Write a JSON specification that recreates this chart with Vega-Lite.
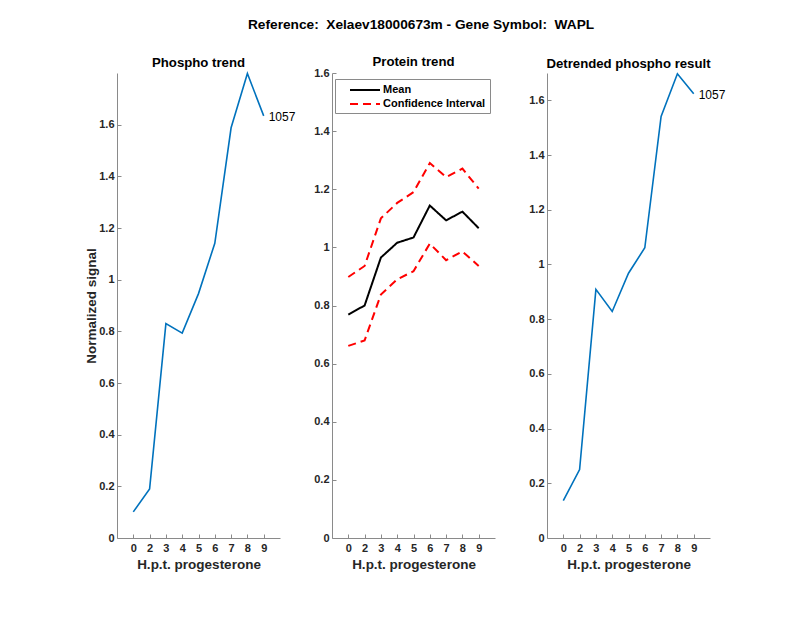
{
  "$schema": "https://vega.github.io/schema/vega-lite/v6.json",
  "padding": {"left": 84, "top": 18, "right": 10, "bottom": 10},
  "background": "white",
  "title": {
    "text": "Reference:\u00a0 Xelaev18000673m - Gene Symbol:\u00a0 WAPL",
    "fontSize": 13.7,
    "fontWeight": "bold",
    "font": "Liberation Sans",
    "color": "black",
    "anchor": "middle",
    "dx": 16,
    "offset": 23
  },
  "datasets": {
    "phospho": [
      {"t": "0", "v": 0.101, "lab": ""},
      {"t": "2", "v": 0.19, "lab": ""},
      {"t": "3", "v": 0.83, "lab": ""},
      {"t": "4", "v": 0.793, "lab": ""},
      {"t": "5", "v": 0.946, "lab": ""},
      {"t": "6", "v": 1.141, "lab": ""},
      {"t": "7", "v": 1.588, "lab": ""},
      {"t": "8", "v": 1.798, "lab": ""},
      {"t": "9", "v": 1.634, "lab": "1057"}
    ],
    "protein": [
      {"t": "0", "series": "Mean", "line": "mean", "v": 0.769},
      {"t": "2", "series": "Mean", "line": "mean", "v": 0.8},
      {"t": "3", "series": "Mean", "line": "mean", "v": 0.965},
      {"t": "4", "series": "Mean", "line": "mean", "v": 1.016},
      {"t": "5", "series": "Mean", "line": "mean", "v": 1.034},
      {"t": "6", "series": "Mean", "line": "mean", "v": 1.144},
      {"t": "7", "series": "Mean", "line": "mean", "v": 1.093},
      {"t": "8", "series": "Mean", "line": "mean", "v": 1.123},
      {"t": "9", "series": "Mean", "line": "mean", "v": 1.066},
      {"t": "0", "series": "Confidence Interval", "line": "upper", "v": 0.898},
      {"t": "2", "series": "Confidence Interval", "line": "upper", "v": 0.936},
      {"t": "3", "series": "Confidence Interval", "line": "upper", "v": 1.1},
      {"t": "4", "series": "Confidence Interval", "line": "upper", "v": 1.153},
      {"t": "5", "series": "Confidence Interval", "line": "upper", "v": 1.19},
      {"t": "6", "series": "Confidence Interval", "line": "upper", "v": 1.29},
      {"t": "7", "series": "Confidence Interval", "line": "upper", "v": 1.242},
      {"t": "8", "series": "Confidence Interval", "line": "upper", "v": 1.271},
      {"t": "9", "series": "Confidence Interval", "line": "upper", "v": 1.202},
      {"t": "0", "series": "Confidence Interval", "line": "lower", "v": 0.661},
      {"t": "2", "series": "Confidence Interval", "line": "lower", "v": 0.68},
      {"t": "3", "series": "Confidence Interval", "line": "lower", "v": 0.838},
      {"t": "4", "series": "Confidence Interval", "line": "lower", "v": 0.89},
      {"t": "5", "series": "Confidence Interval", "line": "lower", "v": 0.918},
      {"t": "6", "series": "Confidence Interval", "line": "lower", "v": 1.013},
      {"t": "7", "series": "Confidence Interval", "line": "lower", "v": 0.956},
      {"t": "8", "series": "Confidence Interval", "line": "lower", "v": 0.986},
      {"t": "9", "series": "Confidence Interval", "line": "lower", "v": 0.936}
    ],
    "detrended": [
      {"t": "0", "v": 0.137, "lab": ""},
      {"t": "2", "v": 0.25, "lab": ""},
      {"t": "3", "v": 0.909, "lab": ""},
      {"t": "4", "v": 0.828, "lab": ""},
      {"t": "5", "v": 0.968, "lab": ""},
      {"t": "6", "v": 1.061, "lab": ""},
      {"t": "7", "v": 1.541, "lab": ""},
      {"t": "8", "v": 1.697, "lab": ""},
      {"t": "9", "v": 1.624, "lab": "1057"}
    ]
  },
  "resolve": {"legend": {"color": "independent", "strokeDash": "independent"}},
  "hconcat": [
    {
      "width": 163,
      "height": 465,
      "title": {"text": "Phospho trend", "frame": "group"},
      "data": {"name": "phospho"},
      "layer": [
        {
          "mark": {"type": "line", "color": "#0072BD", "strokeWidth": 1.6},
          "encoding": {
            "x": {"field": "t", "type": "ordinal", "scale": {"type": "point", "padding": 1}, "title": "H.p.t. progesterone"},
            "y": {"field": "v", "type": "quantitative", "scale": {"domain": [0, 1.8], "nice": false}, "axis": {"values": [0, 0.2, 0.4, 0.6, 0.8, 1, 1.2, 1.4, 1.6]}, "title": "Normalized signal"}
          }
        },
        {
          "mark": {"type": "text", "align": "left", "baseline": "middle", "dx": 5, "dy": 1, "fontSize": 12, "font": "Liberation Sans", "color": "black"},
          "encoding": {
            "x": {"field": "t", "type": "ordinal"},
            "y": {"field": "v", "type": "quantitative"},
            "text": {"field": "lab"}
          }
        }
      ]
    },
    {
      "width": 163,
      "height": 465,
      "title": {"text": "Protein trend", "frame": "group"},
      "data": {"name": "protein"},
      "mark": {"type": "line", "strokeWidth": 2},
      "encoding": {
        "x": {"field": "t", "type": "ordinal", "scale": {"type": "point", "padding": 1}, "title": "H.p.t. progesterone"},
        "y": {"field": "v", "type": "quantitative", "scale": {"domain": [0, 1.6], "nice": false}, "axis": {"values": [0, 0.2, 0.4, 0.6, 0.8, 1, 1.2, 1.4, 1.6]}, "title": null},
        "detail": {"field": "line"},
        "color": {
          "field": "series", "type": "nominal",
          "scale": {"domain": ["Mean", "Confidence Interval"], "range": ["black", "#FF0000"]},
          "legend": {"title": null, "orient": "none", "legendX": 3, "legendY": 6}
        },
        "strokeDash": {
          "field": "series", "type": "nominal",
          "scale": {"domain": ["Mean", "Confidence Interval"], "range": [[1, 0], [8, 5]]},
          "legend": {"title": null, "orient": "none", "legendX": 3, "legendY": 6}
        }
      }
    },
    {
      "width": 163,
      "height": 465,
      "title": {"text": "Detrended phospho result", "frame": "group"},
      "data": {"name": "detrended"},
      "layer": [
        {
          "mark": {"type": "line", "color": "#0072BD", "strokeWidth": 1.6},
          "encoding": {
            "x": {"field": "t", "type": "ordinal", "scale": {"type": "point", "padding": 1}, "title": "H.p.t. progesterone"},
            "y": {"field": "v", "type": "quantitative", "scale": {"domain": [0, 1.7], "nice": false}, "axis": {"values": [0, 0.2, 0.4, 0.6, 0.8, 1, 1.2, 1.4, 1.6]}, "title": null}
          }
        },
        {
          "mark": {"type": "text", "align": "left", "baseline": "middle", "dx": 5, "dy": 1, "fontSize": 12, "font": "Liberation Sans", "color": "black"},
          "encoding": {
            "x": {"field": "t", "type": "ordinal"},
            "y": {"field": "v", "type": "quantitative"},
            "text": {"field": "lab"}
          }
        }
      ]
    }
  ],
  "spacing": 52,
  "bounds": "flush",
  "config": {
    "font": "Liberation Sans",
    "view": {"stroke": null},
    "title": {"fontSize": 13.2, "fontWeight": "bold", "color": "black", "font": "Liberation Sans", "offset": -2},
    "axis": {
      "grid": false,
      "domainColor": "#8a8a8a",
      "tickColor": "#8a8a8a",
      "tickSize": -4,
      "labelFont": "Liberation Sans",
      "labelFontSize": 11,
      "labelFontWeight": "bold",
      "labelColor": "#262626",
      "titleFont": "Liberation Sans",
      "titleFontSize": 13.5,
      "titleFontWeight": "bold",
      "titleColor": "#262626",
      "labelPadding": 8
    },
    "axisY": {"labelExpr": "format(datum.value, '.1~f')", "titlePadding": 0, "labelPadding": 7},
    "axisX": {"labelAngle": 0, "titlePadding": 4},
    "legend": {
      "symbolType": "M-2.5,0H2.5",
      "symbolSize": 144,
      "symbolStrokeWidth": 2,
      "labelFont": "Liberation Sans",
      "labelFontSize": 11,
      "labelFontWeight": "bold",
      "labelColor": "black",
      "strokeColor": "#8a8a8a",
      "fillColor": "white",
      "padding": 4,
      "rowPadding": 2,
      "symbolOffset": 19,
      "labelOffset": 11
    }
  }
}
